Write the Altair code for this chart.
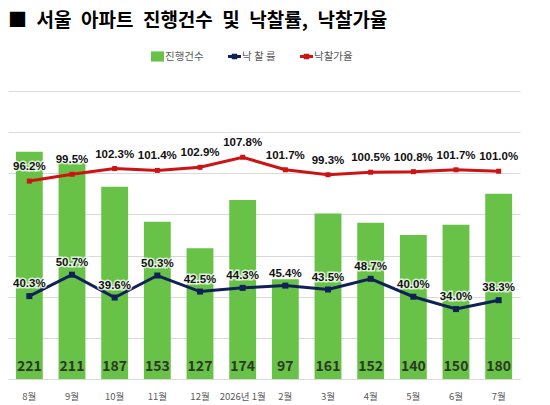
import altair as alt
import pandas as pd

months = ["8월", "9월", "10월", "11월", "12월", "2026년 1월", "2월", "3월", "4월", "5월", "6월", "7월"]
counts = [221, 211, 187, 153, 127, 174, 97, 161, 152, 140, 150, 180]
rate = [40.3, 50.7, 39.6, 50.3, 42.5, 44.3, 45.4, 43.5, 48.7, 40.0, 34.0, 38.3]
price_rate = [96.2, 99.5, 102.3, 101.4, 102.9, 107.8, 101.7, 99.3, 100.5, 100.8, 101.7, 101.0]
legend_names = ["진행건수", "낙 찰 률", "낙찰가율"]
title_words = ["■", "서울", "아파트", "진행건수", "및", "낙찰률,", "낙찰가율"]
title_text = "\u2002".join(title_words)

GREEN = "#67c247"
NAVY = "#0f2156"
RED = "#cc1414"
FONT = "Noto Sans CJK KR"
NUMFONT = "Liberation Sans"

df = pd.DataFrame({"month": months, "count": counts, "rate": rate, "price": price_rate})
df["rate_label"] = [f"{v:.1f}%" for v in rate]
df["price_label"] = [f"{v:.1f}%" for v in price_rate]

x = alt.X(
    "month:N", sort=months,
    scale=alt.Scale(paddingInner=0.37, paddingOuter=0.185),
    axis=alt.Axis(title=None, labelAngle=0, labelFontSize=9.5, labelColor="#595959",
                  labelPadding=12, ticks=False, domainColor="#d9d9d9", grid=False),
)

base = alt.Chart(df)

ybar = alt.Y("count:Q", scale=alt.Scale(domain=[0, 280], nice=False),
             axis=alt.Axis(values=list(range(0, 281, 40)), grid=True, gridColor="#d9d9d9",
                           labels=False, ticks=False, domain=False, title=None))

bars = base.mark_bar(color=GREEN).encode(x=x, y=ybar)
bar_text = base.mark_text(fontSize=14, fontWeight="bold", color="#2c3824",
                          baseline="middle", dy=-12).encode(
    x=x, y=alt.YDatum(0), text="count:Q")

pscale = alt.Scale(domain=[0, 140], nice=False)


def series_layers(field, label, color, psize, dy):
    y = alt.Y(f"{field}:Q", scale=pscale, axis=None)
    line = base.mark_line(color=color, strokeWidth=3).encode(x=x, y=y)
    pts = base.mark_point(shape="square", filled=True, color=color, size=psize, opacity=1).encode(x=x, y=y)
    halo = base.mark_text(font=NUMFONT, fontSize=11.5, fontWeight="bold", stroke="white", strokeWidth=3,
                          strokeOpacity=0.75, fill="white", fillOpacity=0.75,
                          baseline="middle", dy=dy).encode(x=x, y=y, text=f"{label}:N")
    txt = base.mark_text(font=NUMFONT, fontSize=11.5, fontWeight="bold", color="#111111",
                         baseline="middle", dy=dy).encode(x=x, y=y, text=f"{label}:N")
    return [line, pts], [halo, txt]


red_marks, red_text = series_layers("price", "price_label", RED, 25, -14)
navy_marks, navy_text = series_layers("rate", "rate_label", NAVY, 36, -12)

sq = "M-1,-0.78H1V0.78H-1Z"
ln = "M-1,-0.22H1V0.22H-1Z M-0.42,-0.42H0.42V0.42H-0.42Z"
leg_df = pd.DataFrame({"series": legend_names})
leg_props = dict(orient="none", legendX=143, legendY=-41, direction="horizontal", title=None,
                 labelFontSize=10.5, labelColor="#595959", symbolSize=169, labelOffset=1,
                 columnPadding=24, symbolStrokeWidth=0)
legend_layer = alt.Chart(leg_df).transform_filter("false").mark_point(
    filled=True, opacity=1, size=169).encode(
    color=alt.Color("series:N", scale=alt.Scale(domain=legend_names, range=[GREEN, NAVY, RED]),
                    legend=alt.Legend(**leg_props)),
    shape=alt.Shape("series:N", scale=alt.Scale(domain=legend_names, range=[sq, ln, ln]),
                    legend=alt.Legend(**leg_props)),
)

bar_group = alt.layer(bars, bar_text)
line_group = alt.layer(*red_marks, *navy_marks, *red_text, *navy_text, legend_layer)

chart = alt.layer(bar_group, line_group).resolve_scale(y="independent").properties(
    width=512, height=288,
    padding={"left": 0, "top": 4, "right": 5, "bottom": 0},
    title=alt.TitleParams(title_text, anchor="start", fontSize=19, fontWeight="bold",
                          color="#000000", offset=19),
).configure(font=FONT).configure_view(stroke=None)

chart.save("out.html", embed_options={"renderer": "svg", "actions": False})
